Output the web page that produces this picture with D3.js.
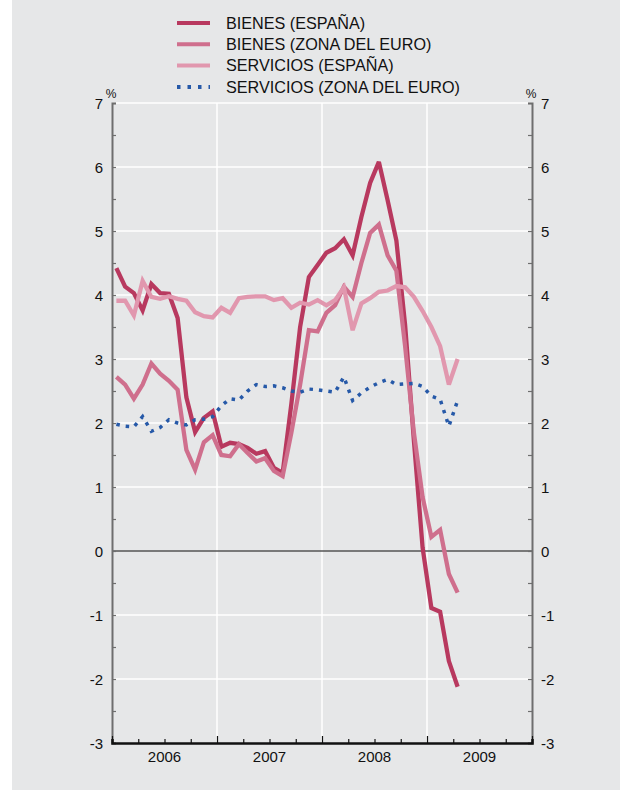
<!DOCTYPE html>
<html><head><meta charset="utf-8">
<script src="https://cdn.jsdelivr.net/npm/d3@7"></script>
<style>
html,body{margin:0;padding:0;background:#fff;}
svg{display:block;font-family:"Liberation Sans",Arial,Helvetica,sans-serif;}
</style></head>
<body><svg id="c" width="629" height="793"></svg>
<script>
// Monthly data, Jan 2006 – Apr 2009
const months = d3.range(40).map(i => `${2006 + Math.floor(i/12)}-${String(i%12+1).padStart(2,"0")}`);
const bienesEsp = [4.42,4.13,4.03,3.76,4.17,4.03,4.02,3.64,2.4,1.86,2.08,2.18,1.63,1.69,1.67,1.61,1.52,1.56,1.3,1.22,2.3,3.5,4.28,4.47,4.66,4.73,4.87,4.62,5.22,5.75,6.08,5.48,4.85,3.53,1.73,0.05,-0.89,-0.95,-1.72,-2.12];
const bienesEur = [2.72,2.6,2.38,2.6,2.93,2.77,2.66,2.52,1.58,1.27,1.7,1.81,1.5,1.48,1.67,1.53,1.4,1.45,1.25,1.17,1.85,2.6,3.45,3.43,3.72,3.84,4.13,3.97,4.5,4.97,5.1,4.62,4.38,3.2,1.85,0.84,0.22,0.33,-0.36,-0.65];
const serviciosEsp = [3.91,3.91,3.68,4.22,3.97,3.94,3.98,3.94,3.91,3.73,3.67,3.65,3.8,3.72,3.95,3.97,3.98,3.98,3.92,3.95,3.8,3.88,3.85,3.92,3.84,3.92,4.12,3.45,3.87,3.95,4.05,4.07,4.14,4.12,3.97,3.75,3.5,3.2,2.6,3.0];
const serviciosEur = [1.98,1.95,1.94,2.1,1.87,1.93,2.05,2.0,1.97,2.05,2.06,2.1,2.27,2.38,2.36,2.5,2.6,2.57,2.58,2.55,2.5,2.48,2.53,2.52,2.5,2.48,2.72,2.35,2.47,2.56,2.63,2.68,2.6,2.61,2.62,2.57,2.42,2.37,1.95,2.35];
const years = ["2006","2007","2008","2009"];
const yTicks = [-3,-2,-1,0,1,2,3,4,5,6,7];
const seriesNames = ["BIENES (ESPAÑA)","BIENES (ZONA DEL EURO)","SERVICIOS (ESPAÑA)","SERVICIOS (ZONA DEL EURO)"];

const series = [
  {name: seriesNames[0], values: bienesEsp, color: "#b8395f", dash: null},
  {name: seriesNames[1], values: bienesEur, color: "#cf6f8d", dash: null},
  {name: seriesNames[2], values: serviciosEsp, color: "#e197ae", dash: null},
  {name: seriesNames[3], values: serviciosEur, color: "#2659a8", dash: "3.5 6"}
];

const svg = d3.select("#c");
const L = 112, R = 532, T = 103, B = 743;

svg.append("rect").attr("x",12).attr("y",0).attr("width",608).attr("height",790).attr("fill","#e6e7e8");

const x = d3.scaleLinear().domain([0, 48]).range([L, R]);
const y = d3.scaleLinear().domain([-3, 7]).range([B, T]);

// grid
svg.append("g").selectAll("line").data(yTicks.filter(v => v !== -3 && v !== 0)).join("line")
  .attr("x1", L).attr("x2", R).attr("y1", d => y(d)).attr("y2", d => y(d))
  .attr("stroke", "#fff").attr("stroke-width", 1.5);
svg.append("g").selectAll("line").data([12,24,36]).join("line")
  .attr("x1", d => x(d)).attr("x2", d => x(d)).attr("y1", T).attr("y2", B)
  .attr("stroke", "#fff").attr("stroke-width", 1.5);
// zero line
svg.append("line").attr("x1", L).attr("x2", R).attr("y1", y(0)).attr("y2", y(0))
  .attr("stroke", "#555").attr("stroke-width", 1.5);

// left / right axes
const halfTicks = d3.range(-3, 7.01, 0.5);
const gl = svg.append("g").attr("transform", `translate(${L},0)`)
  .call(d3.axisRight(y).tickValues(halfTicks).tickSize(4).tickFormat(""));
gl.select(".domain").attr("stroke", "#6e6e6e").attr("stroke-width", 2);
gl.selectAll(".tick line").attr("stroke", "#6e6e6e").attr("stroke-width", 1.2);
const gr = svg.append("g").attr("transform", `translate(${R},0)`)
  .call(d3.axisLeft(y).tickValues(halfTicks).tickSize(4).tickFormat(""));
gr.select(".domain").attr("stroke", "#6e6e6e").attr("stroke-width", 2);
gr.selectAll(".tick line").attr("stroke", "#6e6e6e").attr("stroke-width", 1.2);

// tick labels
svg.append("g").selectAll("text").data(yTicks).join("text")
  .attr("x", 103).attr("y", d => y(d) + 5.5).attr("text-anchor", "end")
  .attr("font-size", 15).attr("fill", "#111").text(d => d);
svg.append("g").selectAll("text").data(yTicks).join("text")
  .attr("x", 541).attr("y", d => y(d) + 5.5).attr("text-anchor", "start")
  .attr("font-size", 15).attr("fill", "#111").text(d => d);
svg.append("text").attr("x", 111).attr("y", 98).attr("text-anchor","middle").attr("font-size", 12).attr("fill","#111").text("%");
svg.append("text").attr("x", 531).attr("y", 98).attr("text-anchor","middle").attr("font-size", 12).attr("fill","#111").text("%");

// bottom axis
const gb = svg.append("g").attr("transform", `translate(0,${B})`)
  .call(d3.axisTop(x).tickValues(d3.range(0, 49, 3)).tickSize(4).tickFormat(""));
gb.select(".domain").attr("stroke", "#111").attr("stroke-width", 2.5);
gb.selectAll(".tick line").attr("stroke", "#111").attr("stroke-width", 1.2)
  .attr("y2", d => d % 12 === 0 ? -7 : -4);
svg.append("g").selectAll("text").data(years).join("text")
  .attr("x", (d, i) => x(i*12 + 6)).attr("y", 762).attr("text-anchor", "middle")
  .attr("font-size", 15).attr("fill", "#111").text(d => d);

// lines
const line = d3.line().x((d, i) => x(i + 0.5)).y(d => y(d));
svg.append("g").selectAll("path").data(series).join("path")
  .attr("d", d => line(d.values)).attr("fill", "none")
  .attr("stroke", d => d.color).attr("stroke-width", d => d.dash ? 3.5 : 4.3)
  .attr("stroke-dasharray", d => d.dash).attr("stroke-linejoin", "miter").attr("stroke-miterlimit", 3);

// legend
const lg = svg.append("g").selectAll("g").data(series).join("g")
  .attr("transform", (d, i) => `translate(0,${23 + i*21.3})`);
lg.append("line").attr("x1", 177).attr("x2", 210).attr("y1", 0).attr("y2", 0)
  .attr("stroke", d => d.color).attr("stroke-width", 4)
  .attr("stroke-dasharray", d => d.dash ? "3.5 7" : null);
lg.append("text").attr("x", 226).attr("y", 5.8).attr("font-size", 16.2).attr("fill", "#111").text(d => d.name);
</script></body></html>
